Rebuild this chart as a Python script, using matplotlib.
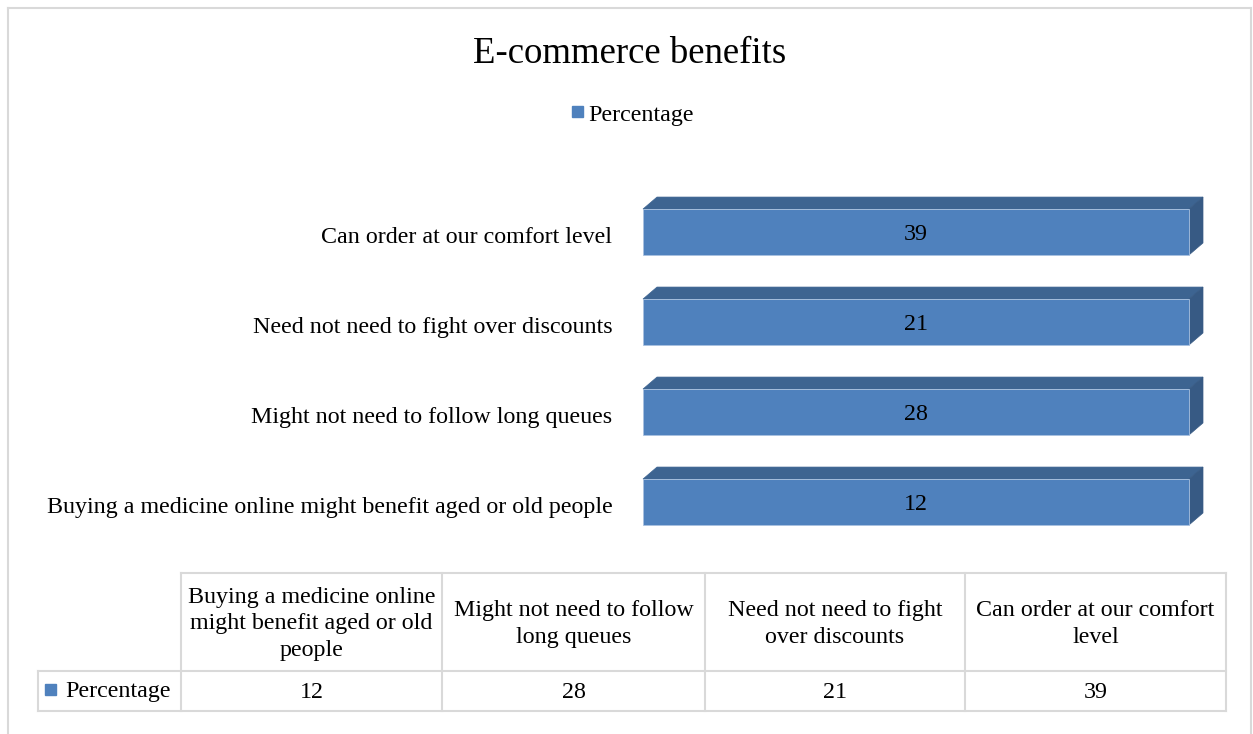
import numpy as np
import matplotlib
matplotlib.use("Agg")
import matplotlib.pyplot as plt
from matplotlib.patches import Polygon, Rectangle
from matplotlib.lines import Line2D

plt.rcParams["font.family"] = ["Liberation Serif", "DejaVu Serif"]

# Daten (von unten nach oben)
categories = [
    "Buying a medicine online might benefit aged or old people",
    "Might not need to follow long queues",
    "Need not need to fight over discounts",
    "Can order at our comfort level",
]
table_headers = [
    "Buying a medicine online\nmight benefit aged or old\npeople",
    "Might not need to follow\nlong queues",
    "Need not need to fight\nover discounts",
    "Can order at our comfort\nlevel",
]
series_name = "Percentage"
percentage = [12, 28, 21, 39]
title = "E-commerce benefits"

W, H = 1253, 734
FRONT = "#4F81BD"
TOP = "#3D6491"
SIDE = "#375A84"
GRID = "#D9D9D9"
FS = 17.3

fig = plt.figure(figsize=(W / 100, H / 100), dpi=100)


def fx(x):
    return x / W


def fy(y):
    return 1 - y / H


def hline(x0, x1, y, lw=1.5, color=GRID):
    fig.add_artist(Line2D([fx(x0), fx(x1)], [fy(y), fy(y)], color=color, lw=lw))


def vline(x, y0, y1, lw=1.5, color=GRID):
    fig.add_artist(Line2D([fx(x), fx(x)], [fy(y0), fy(y1)], color=color, lw=lw))


# Rahmen um das Diagramm
hline(8, 1251, 8)
vline(8, 8, H + 5)
vline(1251, 8, H + 5)

# Titel und Legende
fig.text(fx(630), fy(54), title, ha="center", va="center", fontsize=26.5)
fig.add_artist(Rectangle((fx(572), fy(117)), 11 / W, 11 / H, color=FRONT,
                         transform=fig.transFigure))
fig.text(fx(588), fy(115), series_name, ha="left", va="center", fontsize=FS)

# 100%-gestapelte Balken: Anteil der einzigen Reihe pro Kategorie
values = np.array(percentage, dtype=float)
totals = values.copy()  # nur eine Reihe -> Summe je Kategorie = Wert
share = 100 * values / totals

ax_l, ax_r, ax_t, ax_b = 643, 1189, 187, 547
ax = fig.add_axes([fx(ax_l), fy(ax_b), (ax_r - ax_l) / W, (ax_b - ax_t) / H])
ax.set_xlim(0, 100)
ax.set_ylim(-0.5, len(categories) - 0.5)
ypos = np.arange(len(categories))
h = 0.51
dx = 14 / (ax_r - ax_l) * 100
dy = 12 / ((ax_b - ax_t) / len(categories))
txt_off = 3 / ((ax_b - ax_t) / len(categories))

ax.barh(ypos, share, height=h, color=FRONT, edgecolor="#A9C1E0", linewidth=0.6,
        clip_on=False, zorder=3)
for y, w, v in zip(ypos, share, percentage):
    top = Polygon([(0, y + h / 2), (dx, y + h / 2 + dy), (w + dx, y + h / 2 + dy),
                   (w, y + h / 2)], closed=True, facecolor=TOP, edgecolor=TOP,
                  lw=0.5, clip_on=False, zorder=2)
    side = Polygon([(w, y - h / 2), (w, y + h / 2), (w + dx, y + h / 2 + dy),
                    (w + dx, y - h / 2 + dy)], closed=True, facecolor=SIDE,
                   edgecolor=SIDE, lw=0.5, clip_on=False, zorder=2)
    ax.add_patch(top)
    ax.add_patch(side)
    ax.text(w / 2, y - txt_off, str(v), ha="center", va="center", fontsize=FS,
            zorder=4)

ax.set_yticks(ypos - txt_off, categories, fontsize=FS)
ax.tick_params(axis="y", length=0, pad=22)
ax.set_xticks([])
for s in ax.spines.values():
    s.set_visible(False)

# Datentabelle unter dem Diagramm
col_x = [181, 442, 705, 965, 1226]
t_top, t_mid, t_bot = 573, 671, 711
hline(181, 1226, t_top)
hline(38, 1226, t_mid)
hline(38, 1226, t_bot)
vline(38, t_mid, t_bot)
for x in col_x:
    vline(x, t_top, t_bot)

for i, (hdr, v) in enumerate(zip(table_headers, percentage)):
    cx = (col_x[i] + col_x[i + 1]) / 2
    fig.text(fx(cx), fy(624), hdr, ha="center", va="center", fontsize=FS,
             linespacing=1.36)
    fig.text(fx(cx), fy(693), str(v), ha="center", va="center", fontsize=FS)

fig.add_artist(Rectangle((fx(45), fy(695)), 11 / W, 11 / H, color=FRONT,
                         transform=fig.transFigure))
fig.text(fx(65), fy(692), series_name, ha="left", va="center", fontsize=FS)

fig.savefig("out.png", dpi=100, facecolor="white")
